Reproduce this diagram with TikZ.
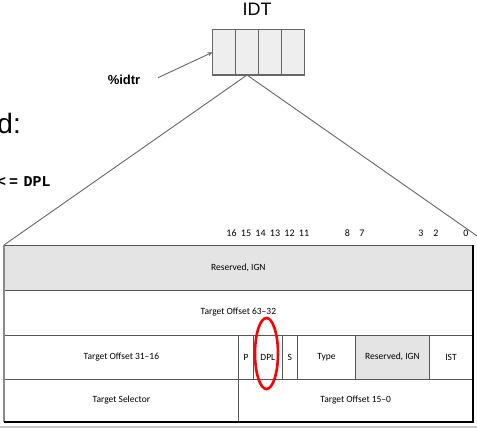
\documentclass[tikz,border=0pt]{standalone}
\usepackage{fontspec}
\setmainfont{Liberation Sans}
\newfontfamily\tabfont{Carlito}
\newfontfamily\codefont{Liberation Mono}
\usetikzlibrary{arrows.meta,shapes.geometric}
\definecolor{idtfill}{HTML}{EEEEEE}
\definecolor{idtgray}{HTML}{666666}
\definecolor{gridgray}{HTML}{555555}
\definecolor{cellfill}{HTML}{E4E4E4}
\definecolor{stripgray}{HTML}{C8C8C8}
\definecolor{leftgray}{HTML}{8A8A8A}
\begin{document}
\begin{tikzpicture}[x=1pt,y=-1pt,
  idtcell/.style={draw=idtgray, fill=idtfill, line width=1.2pt, minimum width=22.9pt, minimum height=45.7pt, inner sep=0pt, outer sep=0pt},
  cell/.style={draw=gridgray, line width=0.9pt, inner sep=0pt, outer sep=0pt, font=\tabfont\fontsize{9.5}{11}\selectfont},
  graycell/.style={cell, fill=cellfill},
  bit/.style={inner sep=0pt, font=\tabfont\fontsize{10}{12}\selectfont},
  conn/.style={draw=idtgray, line width=0.9pt},
  ring/.style={draw=red, line width=2.6pt, ellipse, inner sep=0pt},
]
\useasboundingbox (0,0) rectangle (477,428);
\clip (0,0) rectangle (477,428);

% slide text (clipped at the left edge, as in the reference)
\node[anchor=base east, inner sep=0pt, font=\fontsize{28}{32}\selectfont] (slidetxt) at (21,133) {ed:};
\node[anchor=base east, inner sep=0pt, font=\codefont\bfseries\fontsize{15}{18}\selectfont] (cmp) at (50.8,186) {\spaceskip=5.5pt\relax <\kern3pt= DPL};

% IDT
\node[font=\fontsize{18}{20}\selectfont, inner sep=0pt] (idtlabel) at (257,9) {IDT};
\node[idtcell] (c1) at (224.1,52.2) {};
\node[idtcell] (c2) at (247.0,52.2) {};
\node[idtcell] (c3) at (269.9,52.2) {};
\node[idtcell] (c4) at (292.8,52.2) {};

\node[font=\bfseries\fontsize{13}{15}\selectfont, inner sep=0pt] (idtr) at (124,80) {\%idtr};
\coordinate (idtrtail) at (158,77.7);
\draw[conn, -{Stealth[length=5pt,width=4pt]}] (idtrtail) -- (c1.west);

% table
\node[graycell, minimum width=468.7pt, minimum height=45pt] (res1) at (238.35,267.5) {Reserved, IGN};
\node[cell, minimum width=468.7pt, minimum height=45pt] (off6332) at (238.35,312.5) {Target Offset 63–32};
\node[cell, minimum width=234.7pt, minimum height=44pt] (off3116) at (121.35,357) {Target Offset 31–16};
\node[cell, minimum width=14.6pt, minimum height=44pt] (pbit) at (246,357) {P};
\node[cell, minimum width=29pt, minimum height=44pt] (dpl) at (267.8,357) {DPL};
\node[cell, minimum width=15pt, minimum height=44pt] (sbit) at (289.8,357) {S};
\node[cell, minimum width=58.4pt, minimum height=44pt] (type) at (326.5,357) {Type};
\node[graycell, minimum width=73.6pt, minimum height=44pt] (res2) at (392.5,357) {Reserved, IGN};
\node[cell, minimum width=43.4pt, minimum height=44pt] (ist) at (451,357) {IST};
\node[cell, minimum width=234.7pt, minimum height=43pt] (sel) at (121.35,400.5) {Target Selector};
\node[cell, minimum width=234pt, minimum height=43pt] (off150) at (355.7,400.5) {Target Offset 15–0};

% outer borders
\draw[leftgray, line width=1.5pt] (res1.north west) -- (sel.south west);
\draw[black, line width=2pt] (res1.north east) -- (off150.south east);
\draw[black, line width=2.5pt] (sel.south west) -- ([xshift=1pt]off150.south east);
\fill[stripgray] (0,425.5) rectangle (477,428);

% bit numbers
\foreach \n/\x in {16/231.5,15/246,14/260.5,13/275,12/289.5,11/304,8/347.5,7/362,3/421,2/436,0/466}
  \node[bit] (b\n) at (\x,233.5) {\n};

% lines from the IDT to the table
\coordinate (farright) at (490,245);
\draw[conn] (c2.south) -- (res1.north west);
\draw[conn] (c2.south) -- (farright);

% DPL ring
\node[ring, minimum width=23pt, minimum height=71pt] (dplring) at (266.5,353.5) {};
\end{tikzpicture}
\end{document}
